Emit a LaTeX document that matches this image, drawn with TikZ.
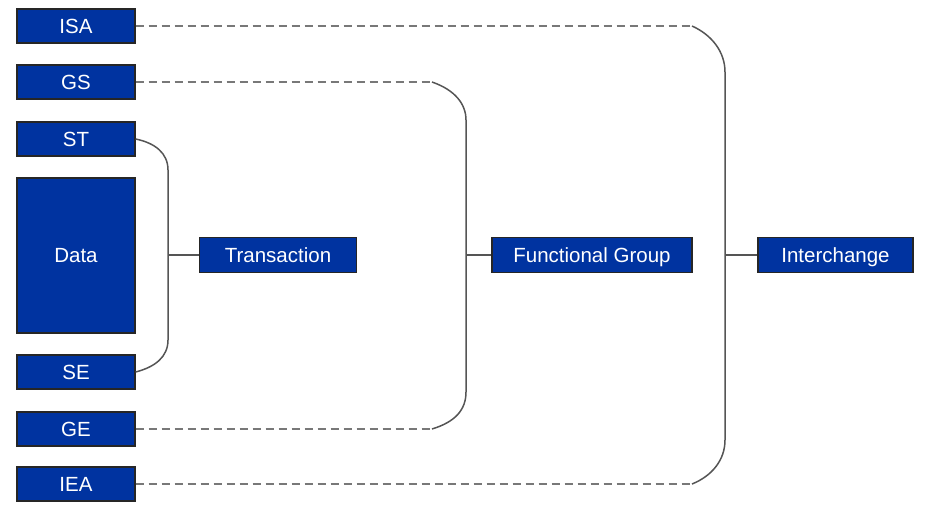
\documentclass[tikz,border=0pt]{standalone}
\usepackage{fontspec}
\setsansfont{Liberation Sans}
\usepackage{xcolor}
\definecolor{segblue}{RGB}{0,51,160}
\definecolor{linegray}{RGB}{85,85,85}
\definecolor{dashgray}{RGB}{120,120,120}
\usetikzlibrary{calc}

\tikzset{
    seg/.style={draw=black!85, fill=segblue, line width=1.2pt, text=white,
        minimum width=118pt, minimum height=34pt, inner sep=0pt,
        text height=15pt, text depth=0.5pt,
        font=\sffamily\fontsize{20.5}{24}\selectfont},
    brace/.style={draw=linegray, line width=1.5pt},
    dashlink/.style={draw=dashgray, line width=1.3pt, dash pattern=on 8pt off 5pt},
}

\begin{document}
\begin{tikzpicture}[x=1pt,y=-1pt]
        \useasboundingbox (0,0) rectangle (932,514);

        % Segments on the left
        \node[seg] (isa) at (76,26) {ISA};
        \node[seg] (gs) at (76,82) {GS};
        \node[seg] (st) at (76,139) {ST};
        \node[seg, minimum height=155pt] (data) at (76,255.5) {Data};
        \node[seg] (se) at (76,372) {SE};
        \node[seg] (ge) at (76,429) {GE};
        \node[seg] (iea) at (76,484) {IEA};

        % Envelopes
        \node[seg, minimum width=157pt, minimum height=35pt] (trans) at (278,255) {Transaction};
        \node[seg, minimum width=200pt, minimum height=35pt] (fgroup) at (592,255) {Functional Group};
        \node[seg, minimum width=155pt, minimum height=35pt] (inter) at (835.5,255) {Interchange};

        % Transaction bracket
        \coordinate (tbar) at (168,255);
        \draw[brace] (st.east) .. controls (155,143) and (168,153) .. (168,170)
            -- (168,340) .. controls (168,357) and (155,367) .. (se.east);
        \draw[brace] (tbar) -- (trans.west);

        % Functional group bracket
        \coordinate (gtop) at (432,82);
        \coordinate (gbot) at (432,429);
        \coordinate (gbar) at (466,255);
        \draw[dashlink] (gs.east) -- (gtop);
        \draw[dashlink] (ge.east) -- (gbot);
        \draw[brace] (gtop) .. controls (455,90) and (466,104) .. (466,120)
            -- (466,392) .. controls (466,410) and (455,422) .. (gbot);
        \draw[brace] (gbar) -- (fgroup.west);

        % Interchange bracket
        \coordinate (itop) at (692,26);
        \coordinate (ibot) at (692,484);
        \coordinate (ibar) at (725,255);
        \draw[dashlink] (isa.east) -- (itop);
        \draw[dashlink] (iea.east) -- (ibot);
        \draw[brace] (itop) .. controls (712,35) and (725,52) .. (725,72)
            -- (725,440) .. controls (725,460) and (712,476) .. (ibot);
        \draw[brace] (ibar) -- (inter.west);
\end{tikzpicture}
\end{document}
